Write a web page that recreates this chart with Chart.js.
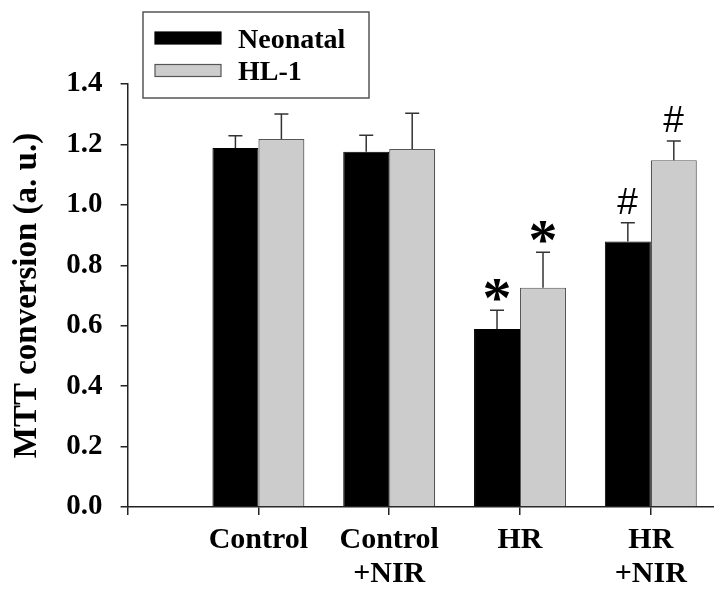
<!DOCTYPE html>
<html>
<head>
<meta charset="utf-8">
<script src="https://cdn.jsdelivr.net/npm/chart.js@4/dist/chart.umd.min.js"></script>
<style>
  html, body { margin: 0; padding: 0; background: #fff; }
  canvas { display: block; }
</style>
</head>
<body>
<canvas id="c" width="714" height="590"></canvas>
<script>
// ---- data ----
const categories = [['Control'], ['Control', '+NIR'], ['HR'], ['HR', '+NIR']];
const seriesNames = ['Neonatal', 'HL-1'];
const neonatal = [1.188, 1.176, 0.589, 0.879];
const neonatalErr = [0.041, 0.054, 0.062, 0.062];
const hl1 = [1.218, 1.185, 0.726, 1.148];
const hl1Err = [0.083, 0.118, 0.117, 0.063];
const neonatalMarks = ['', '', '*', '#'];
const hl1Marks = ['', '', '*', '#'];
const yTicks = [0, 0.2, 0.4, 0.6, 0.8, 1.0, 1.2, 1.4];

const SERIF = "'Liberation Serif', 'Times New Roman', serif";

const toPoints = (vals) => vals.map((v, i) => ({ x: i + 1, y: v }));

const errorBarPlugin = {
  id: 'errorBars',
  afterDatasetsDraw(chart) {
    const ctx = chart.ctx;
    const yScale = chart.scales.y;
    ctx.save();
    chart.data.datasets.forEach((ds, di) => {
      const meta = chart.getDatasetMeta(di);
      meta.data.forEach((bar, i) => {
        const v = ds.data[i].y;
        const top = yScale.getPixelForValue(v + ds.errors[i]);
        ctx.strokeStyle = '#333';
        ctx.lineWidth = 1.5;
        ctx.beginPath();
        ctx.moveTo(bar.x, bar.y);
        ctx.lineTo(bar.x, top);
        ctx.moveTo(bar.x - 7, top);
        ctx.lineTo(bar.x + 7, top);
        ctx.stroke();
        const mark = ds.marks[i];
        if (mark) {
          ctx.fillStyle = '#000';
          ctx.font = mark === '*' ? 'bold 58px ' + SERIF : "37px 'Liberation Sans', Arial, sans-serif";
          ctx.textBaseline = 'alphabetic';
          ctx.textAlign = 'left';
          const m = ctx.measureText(mark);
          const w = m.actualBoundingBoxLeft + m.actualBoundingBoxRight;
          const bottom = top - 9;
          const baseY = bottom - m.actualBoundingBoxDescent;
          const x = bar.x - w / 2 + m.actualBoundingBoxLeft;
          ctx.fillText(mark, x, baseY);
        }
      });
    });
    ctx.restore();
  }
};

const boxLegendPlugin = {
  id: 'boxLegend',
  afterDraw(chart) {
    const ctx = chart.ctx;
    ctx.save();
    ctx.strokeStyle = '#555';
    ctx.lineWidth = 1.5;
    ctx.strokeRect(143, 12, 226, 86);
    const rows = [38, 70.5];
    chart.data.datasets.forEach((ds, i) => {
      const cy = rows[i];
      ctx.fillStyle = ds.backgroundColor;
      ctx.fillRect(155, cy - 6, 66, 12);
      ctx.strokeStyle = ds.borderColor;
      ctx.lineWidth = 1.2;
      ctx.strokeRect(155, cy - 6, 66, 12);
      ctx.fillStyle = '#000';
      ctx.font = 'bold 28px ' + SERIF;
      ctx.textBaseline = 'alphabetic';
      ctx.textAlign = 'left';
      ctx.fillText(ds.label, 238, cy + 9.5);
    });
    ctx.restore();
  }
};

new Chart(document.getElementById('c'), {
  type: 'bar',
  data: {
    datasets: [
      {
        label: seriesNames[0],
        data: toPoints(neonatal),
        errors: neonatalErr,
        marks: neonatalMarks,
        backgroundColor: '#000000',
        borderColor: '#000000',
        borderWidth: 1
      },
      {
        label: seriesNames[1],
        data: toPoints(hl1),
        errors: hl1Err,
        marks: hl1Marks,
        backgroundColor: '#cccccc',
        borderColor: '#555555',
        borderWidth: 1.2
      }
    ]
  },
  options: {
    responsive: false,
    animation: false,
    devicePixelRatio: 1,
    layout: { padding: { top: 84, right: 0, left: 0, bottom: 0 } },
    datasets: { bar: { categoryPercentage: 0.703, barPercentage: 1.0 } },
    plugins: {
      legend: { display: false },
      tooltip: { enabled: false }
    },
    scales: {
      x: {
        type: 'linear',
        min: 0,
        max: 4.483,
        offset: false,
        afterBuildTicks(scale) {
          scale.ticks = [0, 1, 2, 3, 4].map(v => ({ value: v }));
        },
        afterFit(scale) { scale.height = 83; },
        border: { display: true, color: '#222', width: 1.5 },
        grid: { offset: false, drawOnChartArea: false, drawTicks: true, tickLength: 8, color: '#222', lineWidth: 1.5 },
        ticks: {
          autoSkip: false,
          maxRotation: 0,
          padding: 8,
          color: '#000',
          font: { family: SERIF, size: 30, weight: 'bold', lineHeight: 1.13 },
          callback(v) { return v >= 1 ? categories[v - 1] : ''; }
        }
      },
      y: {
        min: 0,
        max: 1.4,
        afterBuildTicks(scale) {
          scale.ticks = yTicks.map(v => ({ value: v }));
        },
        afterFit(scale) { scale.width = 127.6; },
        border: { display: true, color: '#222', width: 1.5 },
        grid: { drawOnChartArea: false, drawTicks: true, tickLength: 7, color: '#222', lineWidth: 1.5 },
        ticks: {
          padding: 18,
          color: '#000',
          font: { family: SERIF, size: 29, weight: 'bold' },
          callback(v) { return Number(v).toFixed(1); }
        },
        title: {
          display: true,
          text: 'MTT conversion (a. u.)',
          color: '#000',
          font: { family: SERIF, size: 33, weight: 'bold' },
          padding: { top: 8, bottom: 0 }
        }
      }
    }
  },
  plugins: [errorBarPlugin, boxLegendPlugin]
});
</script>
</body>
</html>
